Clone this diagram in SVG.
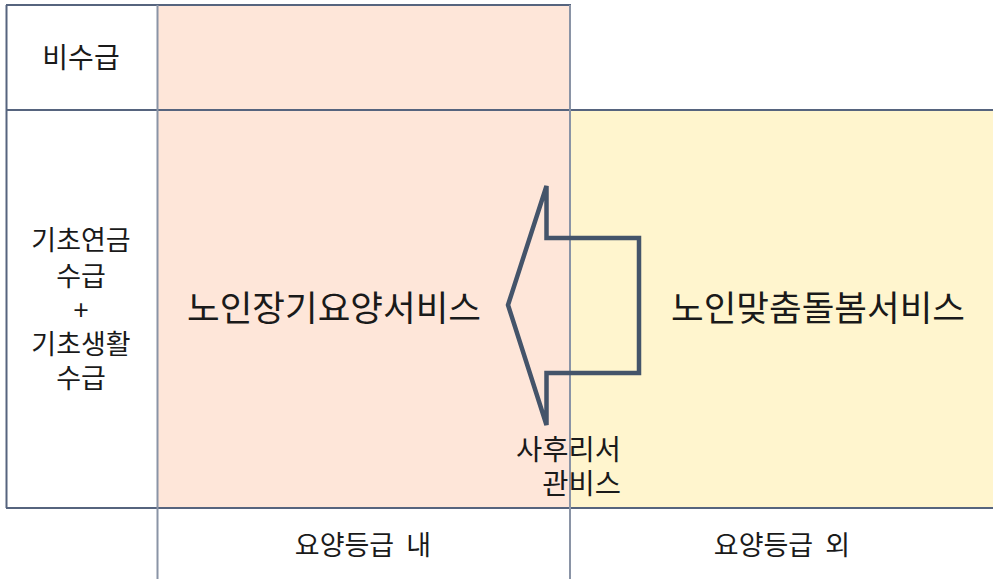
<svg xmlns="http://www.w3.org/2000/svg" width="993" height="579" viewBox="0 0 993 579">
<style>
.t{font-family:"Noto Sans CJK KR","Noto Sans",sans-serif;fill:#1a1a1a;text-anchor:middle}
.h{stroke:#56647E;stroke-width:2;fill:none}
.v{stroke:#8A94A6;stroke-width:2;fill:none}
</style>
<rect width="993" height="579" fill="#ffffff"/>
<g id="pink-region"><rect x="158" y="5" width="412" height="503" fill="#FEE6D9"/></g>
<g id="yellow-region"><rect x="570" y="110" width="423" height="398" fill="#FFF5CE"/></g>
<g id="grid">
<line class="h" x1="6" y1="5" x2="571" y2="5"/>
<line class="h" x1="6.5" y1="5" x2="6.5" y2="508"/>
<line class="h" x1="6" y1="110" x2="993" y2="110"/>
<line class="h" x1="6" y1="508" x2="993" y2="508"/>
<line class="v" x1="157.5" y1="5" x2="157.5" y2="579"/>
<line class="v" x1="570" y1="5" x2="570" y2="579"/>
</g>
<g id="connectors">
<path d="M508,305 L546.5,186 L546.5,238 L639,238 L639,373 L546.5,373 L546.5,425 Z" fill="none" stroke="#44546A" stroke-width="4.5" stroke-linejoin="miter"/>
</g>
<g id="row-nonrecipient"><text class="t" x="81" y="68" font-size="28">비수급</text></g>
<g id="row-recipient">
<text class="t" font-size="27"><tspan x="81" y="250">기초연금</tspan><tspan x="81" y="286">수급</tspan><tspan x="81" y="320">+</tspan><tspan x="81" y="354">기초생활</tspan><tspan x="81" y="388">수급</tspan></text>
</g>
<g id="ltc-service"><text class="t" x="334" y="321" font-size="35.5">노인장기요양서비스</text></g>
<g id="custom-care"><text class="t" x="818" y="321" font-size="35.5">노인맞춤돌봄서비스</text></g>
<g id="aftercare"><text class="t" font-size="28.5" style="text-anchor:end"><tspan x="621" y="460">사후리서</tspan><tspan x="621" y="494">관비스</tspan></text></g>
<g id="col-in"><text class="t" x="363" y="555" font-size="27" xml:space="preserve">요양등급  내</text></g>
<g id="col-out"><text class="t" x="782" y="555" font-size="27" xml:space="preserve">요양등급  외</text></g>
</svg>
